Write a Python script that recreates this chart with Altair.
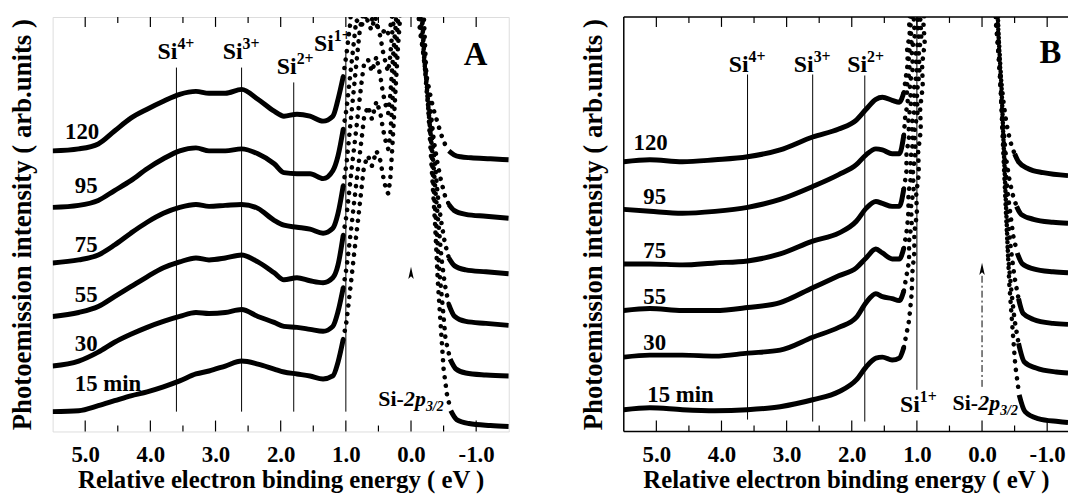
import altair as alt
import pandas as pd

FONT = "Liberation Serif"
CURVES = ["120", "95", "75", "55", "30", "15"]
CURVE_LABELS = ["120", "95", "75", "55", "30", "15 min"]
TICK_MAJOR = [5, 4, 3, 2, 1, 0, -1]
TICK_MINOR = [4.5, 3.5, 2.5, 1.5, 0.5, -0.5]
SUPS = ["4+", "3+", "2+", "1+"]

# ---------------- Panel A ----------------
A_DOMAIN = [5.5, -1.5]
A_E = [5.5, 5.1, 4.8, 4.55, 4.3, 4.05, 3.8, 3.55, 3.3, 3.1, 2.85, 2.6, 2.35, 2.1, 1.95, 1.75, 1.55, 1.35, 1.2, 1.12, 1.04]
A_LEFT = {
    "120": [283, 285, 290, 303, 316, 325, 333, 340, 343, 341, 341, 345, 335, 323, 318, 320, 318, 313, 318, 335, 358],
    "95": [226, 228, 233, 243, 253, 265, 275, 283, 286, 283, 283, 285, 280, 270, 261, 260, 260, 255, 263, 278, 305],
    "75": [170, 173, 178, 188, 200, 211, 220, 226, 229, 227, 228, 229, 225, 213, 208, 206, 204, 200, 205, 220, 248],
    "55": [116, 120, 126, 136, 146, 156, 165, 171, 175, 173, 175, 178, 171, 160, 153, 155, 152, 150, 155, 168, 198],
    "30": [66, 71, 80, 90, 98, 105, 111, 116, 120, 119, 120, 123, 116, 110, 106, 105, 103, 101, 106, 121, 145],
    "15": [20, 21, 26, 31, 36, 40, 45, 51, 58, 61, 66, 71, 68, 63, 60, 58, 56, 53, 56, 70, 93],
}
# peak region (drawn as a chain of dots); values above 418 run off the top of the frame
A_PEAK_E = {
    "120": [1.04, 0.99, 0.96, 0.93, 0.85, 0.0, -0.08,
            -0.12, -0.15, -0.20, -0.24, -0.29, -0.34, -0.40, -0.46, -0.52, -0.58],
    "95": [1.04, 0.99, 0.96, 0.93, 0.90, 0.87, 0.84, 0.76, 0.66, 0.58, 0.49, 0.41, 0.37, 0.32, 0.29,
           0.2, 0.0, -0.08,
           -0.14, -0.17, -0.21, -0.26, -0.31, -0.35, -0.40, -0.46, -0.52, -0.58],
    "75": [1.04, 0.99, 0.96, 0.93, 0.90, 0.87, 0.84, 0.81, 0.78, 0.72, 0.67, 0.61, 0.55,
           0.47, 0.43, 0.38, 0.35, 0.32, 0.29, 0.26, 0.2, 0.0, -0.08,
           -0.15, -0.18, -0.23, -0.27, -0.32, -0.37, -0.41, -0.46, -0.52, -0.58],
    "55": [1.04, 0.99, 0.96, 0.93, 0.90, 0.87, 0.84, 0.81, 0.78, 0.75, 0.72, 0.66, 0.60, 0.53,
           0.47, 0.43, 0.38, 0.35, 0.32, 0.29, 0.26, 0.23, 0.18, 0.0, -0.10,
           -0.17, -0.20, -0.24, -0.29, -0.34, -0.38, -0.43, -0.47, -0.52, -0.58],
    "30": [1.04, 0.99, 0.96, 0.93, 0.90, 0.87, 0.84, 0.81, 0.78, 0.75, 0.72, 0.66, 0.60, 0.53,
           0.47, 0.43, 0.38, 0.35, 0.32, 0.29, 0.26, 0.23, 0.20, 0.15, 0.0, -0.12,
           -0.18, -0.21, -0.26, -0.31, -0.35, -0.40, -0.44, -0.49, -0.53, -0.60],
    "15": [1.04, 0.99, 0.96, 0.93, 0.90, 0.87, 0.84, 0.81, 0.78, 0.75, 0.72, 0.66, 0.60, 0.53,
           0.47, 0.43, 0.38, 0.35, 0.32, 0.29, 0.26, 0.23, 0.20, 0.17, 0.12, 0.0, -0.14,
           -0.20, -0.23, -0.27, -0.32, -0.37, -0.41, -0.46, -0.50, -0.55, -0.61],
}
A_PEAK_I = {
    "120": [358, 381, 397, 413, 600, 800, 600,
            415, 398, 378, 358, 341, 326, 313, 300, 290, 283],
    "95": [305, 325, 343, 361, 379, 397, 415, 409, 425, 413, 407, 403, 399, 407, 419,
           600, 800, 600,
           415, 393, 368, 343, 318, 293, 273, 253, 238, 229],
    "75": [248, 270, 290, 310, 330, 350, 370, 390, 408, 425, 415, 405, 418,
           398, 383, 369, 363, 378, 401, 418, 600, 800, 600,
           413, 388, 358, 328, 298, 268, 238, 213, 190, 175],
    "55": [198, 218, 235, 253, 271, 288, 305, 323, 340, 357, 371, 375, 363, 378,
           358, 341, 327, 321, 338, 365, 391, 413, 600, 800, 600,
           413, 378, 343, 308, 273, 238, 203, 173, 148, 128],
    "30": [145, 165, 181, 198, 215, 233, 250, 267, 283, 300, 317, 328, 315, 333,
           321, 305, 290, 285, 298, 328, 358, 388, 413, 600, 800, 600,
           411, 373, 333, 288, 243, 198, 158, 123, 93, 73],
    "15": [93, 111, 128, 145, 163, 181, 198, 215, 233, 251, 268, 278, 268, 283,
           273, 258, 243, 240, 253, 283, 318, 353, 388, 415, 600, 800, 600,
           413, 368, 318, 263, 208, 153, 103, 63, 38, 21],
}
A_TAIL_E = {
    "120": [-0.58, -0.66, -0.76, -0.92, -1.22, -1.5],
    "95": [-0.58, -0.66, -0.84, -1.15, -1.5],
    "75": [-0.58, -0.67, -0.84, -1.15, -1.5],
    "55": [-0.58, -0.67, -0.84, -1.15, -1.5],
    "30": [-0.60, -0.69, -0.84, -1.15, -1.5],
    "15": [-0.61, -0.70, -0.89, -1.22, -1.5],
}
A_TAIL_I = {
    "120": [283, 279, 277, 276, 275, 274],
    "95": [229, 223, 219, 217, 215],
    "75": [175, 167, 163, 161, 159],
    "55": [128, 116, 111, 109, 107],
    "30": [73, 63, 59, 57, 56],
    "15": [21, 12, 8, 6, 5],
}
A_VL_E = [3.6, 2.6, 1.8, 1.0]
A_VL_TOP = [367, 367, 352, 383]
A_VL_BOT = [20, 20, 20, 20]
A_SI_E = [3.6, 2.6, 1.77, 1.2]
A_SI_I = [376, 376, 361, 384]
A_LAB_E = [5.31, 5.16, 5.16, 5.16, 5.16, 5.16]
A_LAB_I = [295, 240, 181, 131, 81, 41]
A_2P = (0.0, 26)
A_LETTER = ("A", -0.99, 370)
A_ARROW_HEAD = (0.0, 160)

# ---------------- Panel B (its right part is cut off by the page edge) ----------------
B_DOMAIN = [5.5, -1.32]
B_E = [5.5, 5.1, 4.6, 4.1, 3.6, 3.1, 2.6, 2.2, 1.93, 1.78, 1.63, 1.53, 1.38, 1.27, 1.2]
B_LEFT = {
    "120": [272, 274, 272, 274, 277, 284, 297, 305, 314, 325, 335, 337, 334, 332, 342],
    "95": [224, 222, 220, 222, 226, 234, 247, 259, 269, 279, 285, 284, 280, 280, 299],
    "75": [169, 169, 168, 170, 172, 179, 192, 200, 212, 225, 232, 230, 227, 227, 245],
    "55": [122, 124, 122, 122, 125, 130, 145, 157, 165, 175, 184, 180, 174, 174, 185],
    "30": [75, 77, 77, 76, 79, 82, 95, 105, 115, 130, 139, 136, 134, 132, 142],
    "15": [22, 24, 22, 21, 22, 25, 32, 40, 52, 65, 74, 75, 72, 74, 85],
}
B_PEAK_E = {
    "120": [1.2, 1.17, 1.14, 1.15, 1.11, 1.12, 1.09, 1.0, 0.0, -0.15,
            -0.21, -0.24, -0.27, -0.30, -0.33, -0.36, -0.40, -0.45, -0.50],
    "95": [1.2, 1.18, 1.14, 1.16, 1.11, 1.13, 1.08, 1.10, 1.06, 0.95, 0.0, -0.15,
           -0.22, -0.25, -0.28, -0.31, -0.34, -0.37, -0.42, -0.47, -0.53],
    "75": [1.2, 1.16, 1.16, 1.12, 1.13, 1.09, 1.11, 1.06, 1.08, 1.03, 1.05, 1.02, 0.9, 0.0, -0.16,
           -0.24, -0.27, -0.30, -0.33, -0.36, -0.39, -0.44, -0.48, -0.54],
    "55": [1.2, 1.15, 1.13, 1.13, 1.09, 1.10, 1.06, 1.08, 1.03, 1.05, 1.00, 1.02, 0.97, 0.99, 0.96, 0.85, 0.0, -0.16,
           -0.24, -0.28, -0.31, -0.34, -0.37, -0.40, -0.45, -0.50, -0.56],
    "30": [1.2, 1.12, 1.12, 1.08, 1.09, 1.05, 1.06, 1.02, 1.04, 0.99, 1.00, 0.96, 0.97, 0.93, 0.95, 0.92, 0.8, 0.0, -0.17,
           -0.25, -0.28, -0.31, -0.34, -0.37, -0.40, -0.45, -0.50, -0.56],
    "15": [1.2, 1.12, 1.08, 1.07, 1.04, 1.04, 1.00, 1.01, 0.97, 0.98, 0.94, 0.95, 0.91, 0.92, 0.88, 0.90, 0.87, 0.78, 0.0, -0.17,
           -0.25, -0.30, -0.33, -0.36, -0.39, -0.42, -0.47, -0.51, -0.57],
}
B_PEAK_I = {
    "120": [342, 357, 371, 386, 400, 414, 426, 600, 800, 600,
            414, 392, 370, 350, 332, 317, 302, 289, 280],
    "95": [299, 317, 332, 347, 364, 380, 394, 408, 430, 600, 800, 600,
           412, 382, 352, 322, 297, 275, 254, 239, 227],
    "75": [245, 262, 280, 297, 314, 332, 350, 367, 384, 400, 414, 430, 600, 800, 600,
           410, 372, 332, 297, 267, 242, 217, 197, 180],
    "55": [185, 205, 222, 240, 257, 274, 292, 310, 327, 344, 362, 380, 397, 412, 430, 600, 800, 600,
           407, 362, 317, 277, 242, 210, 180, 155, 134],
    "30": [142, 172, 192, 210, 227, 244, 262, 282, 302, 322, 342, 362, 382, 400, 414, 430, 600, 800, 600,
           407, 357, 307, 262, 217, 177, 142, 112, 89],
    "15": [85, 112, 139, 160, 180, 200, 220, 240, 260, 282, 304, 326, 348, 370, 392, 412, 430, 600, 800, 600,
           404, 347, 292, 242, 192, 147, 102, 67, 37],
}
B_TAIL_E = {
    "120": [-0.50, -0.56, -0.71, -0.94, -1.32],
    "95": [-0.53, -0.60, -0.79, -1.09, -1.32],
    "75": [-0.54, -0.62, -0.79, -1.09, -1.32],
    "55": [-0.56, -0.63, -0.79, -1.09, -1.32],
    "30": [-0.56, -0.65, -0.83, -1.14, -1.32],
    "15": [-0.57, -0.66, -0.86, -1.17, -1.32],
}
B_TAIL_I = {
    "120": [280, 272, 265, 261, 258],
    "95": [227, 219, 214, 211, 210],
    "75": [180, 169, 164, 161, 160],
    "55": [134, 119, 113, 109, 108],
    "30": [89, 70, 64, 60, 59],
    "15": [37, 20, 13, 10, 9],
}
B_VL_E = [3.6, 2.6, 1.8, 1.0]
B_VL_TOP = [360, 360, 359, 418]
B_VL_BOT = [12, 10, 10, 42]
B_SI_E = [3.6, 2.6, 1.78, 0.97]
B_SI_I = [363, 363, 363, 20]
B_LAB_E = [5.35, 5.20, 5.20, 5.20, 5.20, 5.14]
B_LAB_I = [284, 229, 175, 129, 82, 30]
B_2P = (-0.05, 22)
B_LETTER = ("B", -1.05, 372)
B_ARROW = (0.0, 45, 160)
B_ARROW_HEAD = (0.0, 164)

PX_PER_EV = 65.7
H = 418

LABEL_EXPR = "datum.value < 0 ? '-' + format(-datum.value, '.1f') : format(datum.value, '.1f')"
AX_X = alt.Axis(values=TICK_MAJOR, labelExpr=LABEL_EXPR, ticks=False, tickSize=0, domain=False, grid=False,
                labelFont=FONT, labelFontSize=23, labelFontWeight="bold", labelColor="black",
                labelPadding=12, title="Relative electron binding energy ( eV )",
                titleFont=FONT, titleFontSize=25, titleFontWeight="bold", titleColor="black",
                titlePadding=2)
AX_Y = alt.Axis(labels=False, ticks=False, tickSize=0, domain=False, grid=False,
                title="Photoemission intensity ( arb.units )",
                titleFont=FONT, titleFontSize=27, titleFontWeight="bold", titleColor="black",
                titlePadding=16)


def panel(domain, E_grid, left, peak_e, peak_i, tail_e, tail_i, vl_e, vl_top, vl_bot,
          si_e, si_i, lab_e, lab_i, p2, letter, arrow_head, arrow=None, open_right=False):
    W = round((domain[0] - domain[1]) * PX_PER_EV)

    def X(field):
        return alt.X(f"{field}:Q", scale=alt.Scale(domain=domain, nice=False, zero=False), axis=AX_X)

    def Y(field):
        return alt.Y(f"{field}:Q", scale=alt.Scale(domain=[0, H], nice=False, zero=False), axis=AX_Y)

    rows = []
    for c in CURVES:
        for e, i in zip(E_grid, left[c]):
            rows.append({"seg": c + "L", "E": e, "I": i})
        for e, i in zip(tail_e[c], tail_i[c]):
            rows.append({"seg": c + "R", "E": e, "I": i})
    lines_df = pd.DataFrame(rows)
    peak_df = pd.DataFrame([{"seg": c, "k": k, "E": e, "I": i}
                            for c in CURVES for k, (e, i) in enumerate(zip(peak_e[c], peak_i[c]))])
    vl_df = pd.DataFrame({"E": vl_e, "top": vl_top, "bot": vl_bot})
    si_df = pd.DataFrame({"E": si_e, "I": si_i, "sup": SUPS})
    lab_df = pd.DataFrame({"E": lab_e, "I": lab_i, "label": CURVE_LABELS})
    p2_df = pd.DataFrame({"E": [p2[0]], "I": [p2[1]]})
    let_df = pd.DataFrame({"E": [letter[1]], "I": [letter[2]], "t": [letter[0]]})
    head_df = pd.DataFrame({"E": [arrow_head[0]], "I": [arrow_head[1]]})
    maj_df = pd.DataFrame({"t": TICK_MAJOR})
    min_df = pd.DataFrame({"t": TICK_MINOR})

    layers = [
        alt.Chart(lines_df).mark_line(color="black", strokeWidth=5, interpolate="monotone", clip=True)
        .encode(x=X("E"), y=Y("I"), detail="seg:N"),
        alt.Chart(peak_df).mark_line(color="black", strokeWidth=4.6, strokeDash=[0.1, 8.5],
                                     strokeCap="round", clip=True)
        .encode(x=X("E"), y=Y("I"), detail="seg:N", order="k:Q"),
        alt.Chart(vl_df).mark_rule(color="black", strokeWidth=1)
        .encode(x=X("E"), y=Y("bot"), y2="top:Q"),
        alt.Chart(si_df).mark_text(font=FONT, fontSize=24, fontWeight="bold", align="right",
                                   baseline="alphabetic", dx=1, color="black")
        .encode(x=X("E"), y=Y("I"), text=alt.value("Si")),
        alt.Chart(si_df).mark_text(font=FONT, fontSize=16, fontWeight="bold", align="left",
                                   baseline="alphabetic", dx=1, dy=-10, color="black")
        .encode(x=X("E"), y=Y("I"), text="sup:N"),
        alt.Chart(lab_df).mark_text(font=FONT, fontSize=23, fontWeight="bold", align="left",
                                    baseline="alphabetic", color="black")
        .encode(x=X("E"), y=Y("I"), text="label:N"),
        alt.Chart(p2_df).mark_text(font=FONT, fontSize=22, fontWeight="bold", align="left",
                                   baseline="alphabetic", dx=-33, color="black")
        .encode(x=X("E"), y=Y("I"), text=alt.value("Si-")),
        alt.Chart(p2_df).mark_text(font=FONT, fontSize=22, fontWeight="bold", fontStyle="italic",
                                   align="left", baseline="alphabetic", dx=-7, color="black")
        .encode(x=X("E"), y=Y("I"), text=alt.value("2p")),
        alt.Chart(p2_df).mark_text(font=FONT, fontSize=14, fontWeight="bold", fontStyle="italic",
                                   align="left", baseline="alphabetic", dx=15, dy=5, color="black")
        .encode(x=X("E"), y=Y("I"), text=alt.value("3/2")),
        alt.Chart(let_df).mark_text(font=FONT, fontSize=33, fontWeight="bold", align="center",
                                    baseline="alphabetic", color="black")
        .encode(x=X("E"), y=Y("I"), text="t:N"),
        alt.Chart(head_df).mark_point(shape="M0,-1L0.45,1L0,0.55L-0.45,1Z", filled=True, size=150,
                                      color="black", opacity=1)
        .encode(x=X("E"), y=Y("I")),
        alt.Chart(maj_df).mark_rule(color="black", strokeWidth=1.2)
        .encode(x=X("t"), y=alt.value(H), y2=alt.value(H - 11)),
        alt.Chart(min_df).mark_rule(color="black", strokeWidth=1.2)
        .encode(x=X("t"), y=alt.value(H), y2=alt.value(H - 6)),
        alt.Chart(maj_df).mark_rule(color="black", strokeWidth=1.2)
        .encode(x=X("t"), y=alt.value(0), y2=alt.value(10)),
        alt.Chart(min_df).mark_rule(color="black", strokeWidth=1.2)
        .encode(x=X("t"), y=alt.value(0), y2=alt.value(6)),
    ]
    if arrow is not None:
        arr_df = pd.DataFrame({"E": [arrow[0]], "I1": [arrow[1]], "I2": [arrow[2]]})
        layers.append(
            alt.Chart(arr_df).mark_rule(color="black", strokeWidth=1, strokeDash=[7, 3, 2, 3])
            .encode(x=X("E"), y=Y("I1"), y2="I2:Q")
        )
    if open_right:
        # frame on three sides only: the right edge lies beyond the page
        frame_df = pd.DataFrame({"f": [0]})
        layers += [
            alt.Chart(frame_df).mark_rule(color="black", strokeWidth=1.5)
            .encode(x=alt.value(0), x2=alt.value(W), y=alt.value(0)),
            alt.Chart(frame_df).mark_rule(color="black", strokeWidth=1.5)
            .encode(x=alt.value(0), x2=alt.value(W), y=alt.value(H)),
            alt.Chart(frame_df).mark_rule(color="black", strokeWidth=1.5)
            .encode(x=alt.value(0), y=alt.value(0), y2=alt.value(H)),
        ]
        return alt.layer(*layers).properties(width=W, height=H,
                                             view=alt.ViewBackground(stroke="transparent"))
    return alt.layer(*layers).properties(width=W, height=H)


pA = panel(A_DOMAIN, A_E, A_LEFT, A_PEAK_E, A_PEAK_I, A_TAIL_E, A_TAIL_I, A_VL_E, A_VL_TOP, A_VL_BOT,
           A_SI_E, A_SI_I, A_LAB_E, A_LAB_I, A_2P, A_LETTER, A_ARROW_HEAD)
pB = panel(B_DOMAIN, B_E, B_LEFT, B_PEAK_E, B_PEAK_I, B_TAIL_E, B_TAIL_I, B_VL_E, B_VL_TOP, B_VL_BOT,
           B_SI_E, B_SI_I, B_LAB_E, B_LAB_I, B_2P, B_LETTER, B_ARROW_HEAD, B_ARROW, open_right=True)

chart = (
    alt.hconcat(pA, pB, spacing=70)
    .properties(padding={"left": 0, "top": 5, "right": 0, "bottom": 0})
    .configure_view(stroke="black", strokeWidth=1.5)
    .configure(background="white")
)

chart.save("out.html", embed_options={"renderer": "svg", "actions": False})
